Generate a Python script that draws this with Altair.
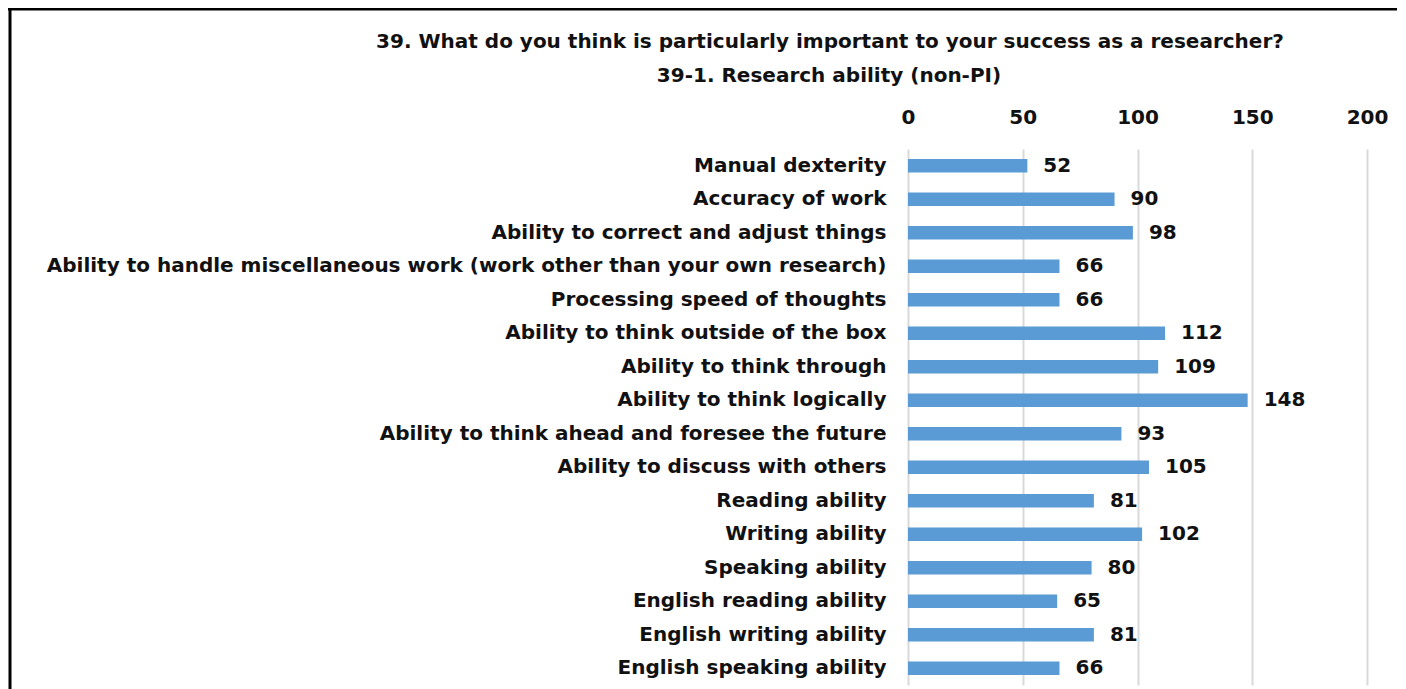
import altair as alt
import pandas as pd

categories = [
    "Manual dexterity",
    "Accuracy of work",
    "Ability to correct and adjust things",
    "Ability to handle miscellaneous work (work other than your own research)",
    "Processing speed of thoughts",
    "Ability to think outside of the box",
    "Ability to think through",
    "Ability to think logically",
    "Ability to think ahead and foresee the future",
    "Ability to discuss with others",
    "Reading ability",
    "Writing ability",
    "Speaking ability",
    "English reading ability",
    "English writing ability",
    "English speaking ability",
]
values = [52, 90, 98, 66, 66, 112, 109, 148, 93, 105, 81, 102, 80, 65, 81, 66]
x_ticks = [0, 50, 100, 150, 200]
title_lines = [
    "39. What do you think is particularly important to your success as a researcher?",
    "39-1. Research ability (non-PI)",
]

df = pd.DataFrame({"item": categories, "count": values})
title_df = pd.DataFrame({"line": title_lines, "row": [0, 1]})

FONT = "DejaVu Sans"
BAR = "#5B9BD5"
TXT = "#111111"
PLOT_W, PLOT_H = 459, 536
PAD_L, PAD_T = 900, 141

y_axis = alt.Axis(
    labelFont=FONT,
    labelFontSize=20,
    labelFontWeight="bold",
    labelColor=TXT,
    labelLimit=2000,
    labelPadding=22,
    ticks=False,
    domain=False,
    grid=False,
)
x_axis = alt.Axis(
    orient="top",
    values=x_ticks,
    grid=True,
    gridColor="#d9d9d9",
    gridWidth=2,
    domain=False,
    ticks=False,
    labelFlush=False,
    labelFont=FONT,
    labelFontSize=20,
    labelFontWeight="bold",
    labelColor=TXT,
    labelPadding=22,
)
x_scale = alt.Scale(domain=[0, 200], nice=False)
y_scale = alt.Scale(paddingInner=0.6, paddingOuter=0.3)

bars = alt.Chart(df).mark_bar(color=BAR).encode(
    x=alt.X("count:Q", title=None, scale=x_scale, axis=x_axis),
    y=alt.Y("item:N", sort=categories, title=None, scale=y_scale, axis=y_axis),
)
labels = alt.Chart(df).mark_text(
    align="left", baseline="middle", dx=16, font=FONT, fontSize=20,
    fontWeight="bold", color=TXT
).encode(
    x=alt.X("count:Q", title=None, scale=x_scale, axis=x_axis),
    y=alt.Y("item:N", sort=categories, title=None, scale=y_scale, axis=y_axis),
    text="count:Q",
)

title_line1 = alt.Chart(title_df).transform_filter("datum.row == 0").mark_text(
    align="center", baseline="middle", font=FONT, fontSize=20,
    fontWeight="bold", color=TXT
).encode(x=alt.value(-78), y=alt.value(-107), text="line:N")
title_line2 = alt.Chart(title_df).transform_filter("datum.row == 1").mark_text(
    align="center", baseline="middle", font=FONT, fontSize=20,
    fontWeight="bold", color=TXT
).encode(x=alt.value(-79), y=alt.value(-73), text="line:N")

frame_df = pd.DataFrame({"k": [0]})
left_border = alt.Chart(frame_df).mark_rule(color="#000000", strokeWidth=3).encode(
    x=alt.value(-898), y=alt.value(-140), y2=alt.value(PLOT_H + 10)
)
top_border = alt.Chart(frame_df).mark_rule(color="#000000", strokeWidth=3).encode(
    x=alt.value(-900), x2=alt.value(PLOT_W + 40), y=alt.value(-140)
)

chart = alt.layer(
    bars, labels, title_line1, title_line2, left_border, top_border
).properties(
    width=PLOT_W,
    height=PLOT_H,
    autosize=alt.AutoSizeParams(type="none"),
    padding={"left": PAD_L, "top": PAD_T, "right": 30, "bottom": 4},
    view=alt.ViewBackground(stroke="transparent", strokeWidth=0, strokeOpacity=0),
).configure_view(
    strokeWidth=0, stroke="transparent"
).configure_axis(
    domain=False, ticks=False
).configure(background="white")

chart.save("out.html", embed_options={"renderer": "svg", "actions": False})
